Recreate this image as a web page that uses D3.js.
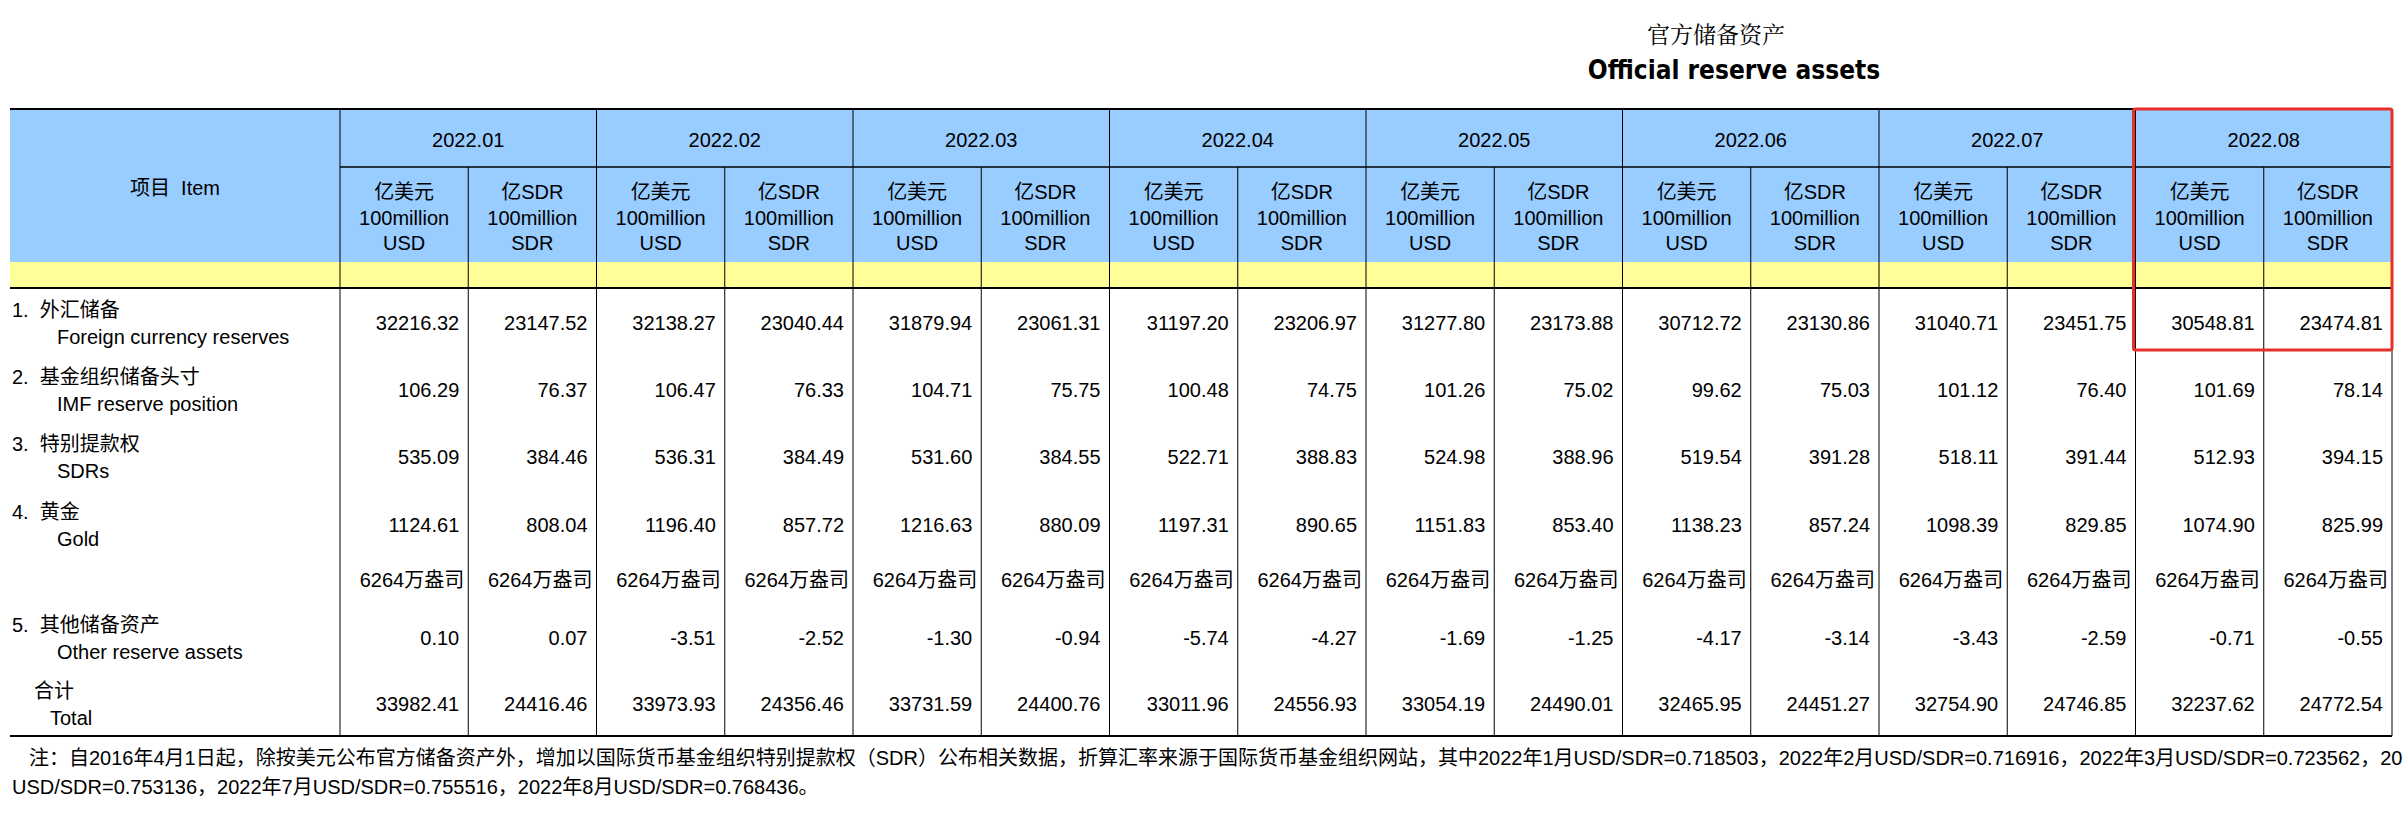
<!DOCTYPE html>
<html><head><meta charset="utf-8">
<script src="https://cdn.jsdelivr.net/npm/d3@7"></script>
<style>body{margin:0;background:#fff}svg{display:block}</style>
</head><body>
<script>
const months = ["2022.01","2022.02","2022.03","2022.04","2022.05","2022.06","2022.07","2022.08"];
const units = [["亿美元","100million","USD"],["亿SDR","100million","SDR"]];
const rowLabels = [
  ["1.  外汇储备","Foreign currency reserves"],
  ["2.  基金组织储备头寸","IMF reserve position"],
  ["3.  特别提款权","SDRs"],
  ["4.  黄金","Gold"],
  ["",""],
  ["5.  其他储备资产","Other reserve assets"],
  ["合计","Total"]
];
const fx   = ["32216.32","23147.52","32138.27","23040.44","31879.94","23061.31","31197.20","23206.97","31277.80","23173.88","30712.72","23130.86","31040.71","23451.75","30548.81","23474.81"];
const imf  = ["106.29","76.37","106.47","76.33","104.71","75.75","100.48","74.75","101.26","75.02","99.62","75.03","101.12","76.40","101.69","78.14"];
const sdr  = ["535.09","384.46","536.31","384.49","531.60","384.55","522.71","388.83","524.98","388.96","519.54","391.28","518.11","391.44","512.93","394.15"];
const gold = ["1124.61","808.04","1196.40","857.72","1216.63","880.09","1197.31","890.65","1151.83","853.40","1138.23","857.24","1098.39","829.85","1074.90","825.99"];
const goldOz = Array(16).fill("6264万盎司");
const other = ["0.10","0.07","-3.51","-2.52","-1.30","-0.94","-5.74","-4.27","-1.69","-1.25","-4.17","-3.14","-3.43","-2.59","-0.71","-0.55"];
const total = ["33982.41","24416.46","33973.93","24356.46","33731.59","24400.76","33011.96","24556.93","33054.19","24490.01","32465.95","24451.27","32754.90","24746.85","32237.62","24772.54"];
const rows = [fx, imf, sdr, gold, goldOz, other, total];
const note1 = "注：自2016年4月1日起，除按美元公布官方储备资产外，增加以国际货币基金组织特别提款权（SDR）公布相关数据，折算汇率来源于国际货币基金组织网站，其中2022年1月USD/SDR=0.718503，2022年2月USD/SDR=0.716916，2022年3月USD/SDR=0.723562，2022年4月USD/SDR=0.743877，2022年5月USD/SDR=0.740876，2022年6月";
const note2 = "USD/SDR=0.753136，2022年7月USD/SDR=0.755516，2022年8月USD/SDR=0.768436。";

const W=2403,H=816;
const svg=d3.select("body").append("svg").attr("width",W).attr("height",H);
const F="'Liberation Sans','Noto Sans CJK SC',sans-serif";
const tLeft=10,firstR=340,tRight=2392;
const colX=d3.scaleLinear().domain([0,16]).range([firstR,tRight]);
const tTop=109,h1=167,h2=262,h3=288,tBottom=736;
const rowY=d3.scaleOrdinal().domain(d3.range(7)).range([323,390,457,525,580,638,704]);

svg.append("rect").attr("x",tLeft).attr("y",tTop).attr("width",tRight-tLeft).attr("height",h2-tTop).attr("fill","#99ccff");
svg.append("rect").attr("x",tLeft).attr("y",h2).attr("width",tRight-tLeft).attr("height",h3-h2).attr("fill","#ffff99");

svg.append("text").attr("x",1716).attr("y",33).attr("text-anchor","middle").attr("dominant-baseline","central")
  .attr("font-family","'Noto Serif CJK SC','Noto Sans CJK SC',serif").attr("font-size",23).text("官方储备资产");
svg.append("text").attr("x",1734).attr("y",70).attr("text-anchor","middle").attr("dominant-baseline","central")
  .attr("font-family","'DejaVu Sans Condensed','Liberation Sans',sans-serif").attr("font-weight","bold").attr("font-size",26).text("Official reserve assets");

const g=svg.append("g").attr("stroke","#000");
g.append("line").attr("x1",tLeft).attr("x2",tRight).attr("y1",tTop).attr("y2",tTop).attr("stroke-width",2);
g.append("line").attr("x1",firstR).attr("x2",tRight).attr("y1",h1).attr("y2",h1).attr("stroke-width",1.5);
g.append("line").attr("x1",tLeft).attr("x2",tRight).attr("y1",h3).attr("y2",h3).attr("stroke-width",2);
g.append("line").attr("x1",tLeft).attr("x2",tRight).attr("y1",tBottom).attr("y2",tBottom).attr("stroke-width",2);
d3.range(17).forEach(i=>{
  const y0 = (i%2===0)?tTop:h1;
  g.append("line").attr("x1",colX(i)).attr("x2",colX(i)).attr("y1",y0).attr("y2",tBottom).attr("stroke-width",1);
});

svg.append("text").attr("x",(tLeft+firstR)/2).attr("y",188).attr("text-anchor","middle").attr("dominant-baseline","central")
  .attr("font-family",F).attr("font-size",20).attr("xml:space","preserve").text("项目  Item");
months.forEach((m,i)=>{
  svg.append("text").attr("x",(colX(2*i)+colX(2*i+2))/2).attr("y",140).attr("text-anchor","middle").attr("dominant-baseline","central")
    .attr("font-family",F).attr("font-size",20).text(m);
  units.forEach((u,j)=>{
    u.forEach((s,k)=>{
      svg.append("text").attr("x",(colX(2*i+j)+colX(2*i+j+1))/2).attr("y",192+k*25.5).attr("text-anchor","middle").attr("dominant-baseline","central")
        .attr("font-family",F).attr("font-size",20).text(s);
    });
  });
});

rowLabels.forEach((r,i)=>{
  if(!r[0]) return;
  const c=rowY(i), isTot=(i===6);
  svg.append("text").attr("x",isTot?34:12).attr("y",c-13).attr("dominant-baseline","central")
    .attr("font-family",F).attr("font-size",20).attr("xml:space","preserve").text(r[0]);
  svg.append("text").attr("x",isTot?50:57).attr("y",c+14).attr("dominant-baseline","central")
    .attr("font-family",F).attr("font-size",20).text(r[1]);
});

rows.forEach((vals,i)=>{
  vals.forEach((v,j)=>{
    svg.append("text").attr("x",colX(j+1)-(i===4?4:9)).attr("y",rowY(i)).attr("text-anchor","end").attr("dominant-baseline","central")
      .attr("font-family",F).attr("font-size",20).text(v);
  });
});

svg.append("rect").attr("x",colX(14)-2).attr("y",tTop).attr("width",tRight-colX(14)+2).attr("height",350-tTop)
  .attr("fill","none").attr("stroke","#e8302a").attr("stroke-width",3).attr("rx",2);

svg.append("text").attr("x",29).attr("y",758).attr("dominant-baseline","central").attr("font-family",F).attr("font-size",20).text(note1);
svg.append("text").attr("x",12).attr("y",787).attr("dominant-baseline","central").attr("font-family",F).attr("font-size",20).text(note2);
</script>
</body></html>
